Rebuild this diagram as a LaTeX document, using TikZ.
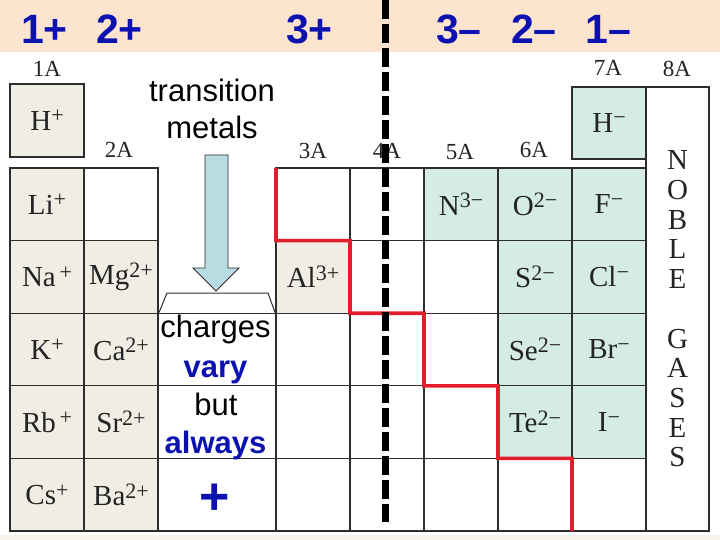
\documentclass[tikz,border=0pt]{standalone}
\usepackage{fontspec}
\setmainfont{Liberation Serif}
\newfontfamily\arialfam{Liberation Sans}
\definecolor{peach}{RGB}{252,228,207}
\definecolor{palestrip}{RGB}{248,244,236}
\definecolor{beigec}{RGB}{240,237,228}
\definecolor{tealc}{RGB}{213,236,230}
\definecolor{gridc}{RGB}{45,45,45}
\definecolor{eltext}{RGB}{35,35,35}
\definecolor{bluec}{RGB}{12,18,176}
\definecolor{redc}{RGB}{226,30,45}
\definecolor{arrowfill}{RGB}{183,221,226}
\newcommand\elfont{\fontsize{29}{32}\selectfont}
\newcommand\grpfont{\fontsize{23}{26}\selectfont}
\newcommand\hdrfont{\arialfam\bfseries\fontsize{41}{44}\selectfont}
\newcommand\tmfont{\arialfam\fontsize{31}{36}\selectfont}
\newcommand\ionsup[1]{\raisebox{7.5pt}{\fontsize{22}{22}\selectfont #1}}
\begin{document}
\begin{tikzpicture}[x=1pt,y=-1pt,
  cell/.style={draw=gridc, line width=1.2pt, minimum width=74pt, minimum height=72.6pt,
    inner sep=0pt, outer sep=0pt, font=\elfont, text=eltext},
  beige/.style={cell, fill=beigec},
  teal/.style={cell, fill=tealc},
  blank/.style={cell, fill=white},
  tmcell/.style={blank, minimum width=118pt},
  grp/.style={font=\grpfont, text=eltext, inner sep=0pt},
  hdr/.style={font=\hdrfont, text=bluec, inner sep=0pt},
  tmtext/.style={font=\tmfont, text=black, inner sep=0pt, anchor=base},
  tmblue/.style={font=\tmfont\bfseries, text=bluec, inner sep=0pt, anchor=base},
  redline/.style={draw=redc, line width=3.6pt, line join=miter},
  dashline/.style={draw=black, line width=7pt, dash pattern=on 19pt off 5pt},
  thickborder/.style={draw=gridc, line width=2.6pt}]
\useasboundingbox (0,0) rectangle (720,540);
% header band and bottom strip
\fill[peach] (0,0) rectangle (720,52);
\fill[palestrip] (0,535) rectangle (720,540);
% hydrogen boxes and noble gases column
\node[beige, minimum height=73pt, line width=1.8pt] (H) at (47,120.5) {H\ionsup{+}};
\node[teal, minimum height=72pt] (Hm) at (609,123) {H\ionsup{−}};
\node[cell, fill=white, minimum width=63pt, minimum height=444pt, line width=2pt,
  align=center, font=\fontsize{29}{29.7}\selectfont] (noble) at (677.5,309)
  {N\\O\\B\\L\\E\\\mbox{}\\G\\A\\S\\E\\S};
% row 2
\node[beige] (Li) at (47,204.3) {Li\ionsup{+}};
\node[blank] (r2c2) at (121,204.3) {};
\node[blank] (r2c3) at (313,204.3) {};
\node[blank] (r2c4) at (387,204.3) {};
\node[teal] (N) at (461,204.3) {N\ionsup{3−}};
\node[teal] (O) at (535,204.3) {O\ionsup{2−}};
\node[teal] (F) at (609,204.3) {F\ionsup{−}};
% row 3
\node[beige] (Na) at (47,276.9) {Na\ionsup{\,+}};
\node[beige] (Mg) at (121,276.9) {Mg\ionsup{2+}};
\node[beige] (Al) at (313,276.9) {Al\ionsup{3+}};
\node[blank] (r3c4) at (387,276.9) {};
\node[blank] (r3c5) at (461,276.9) {};
\node[teal] (S) at (535,276.9) {S\ionsup{2−}};
\node[teal] (Cl) at (609,276.9) {Cl\ionsup{−}};
% row 4
\node[beige] (K) at (47,349.5) {K\ionsup{+}};
\node[beige] (Ca) at (121,349.5) {Ca\ionsup{2+}};
\node[tmcell] (tm4) at (217,349.5) {};
\node[blank] (r4c3) at (313,349.5) {};
\node[blank] (r4c4) at (387,349.5) {};
\node[blank] (r4c5) at (461,349.5) {};
\node[teal] (Se) at (535,349.5) {Se\ionsup{2−}};
\node[teal] (Br) at (609,349.5) {Br\ionsup{−}};
% row 5
\node[beige] (Rb) at (47,422.1) {Rb\ionsup{\,+}};
\node[beige] (Sr) at (121,422.1) {Sr\ionsup{2+}};
\node[tmcell] (tm5) at (217,422.1) {};
\node[blank] (r5c3) at (313,422.1) {};
\node[blank] (r5c4) at (387,422.1) {};
\node[blank] (r5c5) at (461,422.1) {};
\node[teal] (Te) at (535,422.1) {Te\ionsup{2−}};
\node[teal] (I) at (609,422.1) {I\ionsup{−}};
% row 6
\node[beige] (Cs) at (47,494.7) {Cs\ionsup{+}};
\node[beige] (Ba) at (121,494.7) {Ba\ionsup{2+}};
\node[tmcell] (tm6) at (217,494.7) {};
\node[blank] (r6c3) at (313,494.7) {};
\node[blank] (r6c4) at (387,494.7) {};
\node[blank] (r6c5) at (461,494.7) {};
\node[blank] (r6c6) at (535,494.7) {};
\node[blank] (r6c7) at (609,494.7) {};
% outer border
\draw[thickborder] (Li.north west) -- (Cs.south west) -- (Cs.south west -| noble.south east) -- (noble.north east);
% group labels
\node[grp] (g1) at (47,69) {1A};
\node[grp] (g2) at (119,150) {2A};
\node[grp] (g3) at (313,151) {3A};
\node[grp] (g4) at (387,151) {4A};
\node[grp] (g5) at (460,152) {5A};
\node[grp] (g6) at (534,150) {6A};
\node[grp] (g7) at (608,68) {7A};
\node[grp] (g8) at (677,69) {8A};
% bracket above transition metals
\draw[gridc, line width=1pt] (159,312.5) -- (167,293) -- (268,293) -- (275,312.5);
% block arrow
\draw[gridc, line width=0.9pt, fill=arrowfill, line join=miter]
  (205,155) -- (228,155) -- (228,268) -- (239,268) -- (216,291) -- (193,268) -- (205,268) -- cycle;
% transition metal texts
\node[tmtext] (tr1) at (212,102) {transition};
\node[tmtext] (tr2) at (212,139) {metals};
\node[tmtext] (ch) at (215.5,337) {charges};
\node[tmblue] (va) at (215.5,377) {vary};
\node[tmtext] (bu) at (216,415) {but};
\node[tmblue] (al) at (215.5,453) {always};
\node[font=\arialfam\bfseries\fontsize{52}{52}\selectfont, text=bluec, inner sep=0pt] (plus) at (215,499) {+};
% header charges
\node[hdr] (h1p) at (44.5,29) {1+};
\node[hdr] (h2p) at (119.5,29) {2+};
\node[hdr] (h3p) at (309.5,29) {3+};
\node[hdr] (h3m) at (459,29) {3–};
\node[hdr] (h2m) at (534,29) {2–};
\node[hdr] (h1m) at (608,29) {1–};
% metal / nonmetal staircase
\draw[redline] (r2c3.north west) -- (r2c3.south west) -- (r3c4.north west) -- (r3c4.south west)
  -- (r4c5.north west) -- (r4c5.south west) -- (Te.north west) -- (Te.south west)
  -- (r6c7.north west) -- (r6c7.south west);
% dashed divider
\coordinate (dtop) at (385,0);
\coordinate (dbot) at (385,522);
\draw[dashline] (dtop) -- (dbot);
\end{tikzpicture}
\end{document}
